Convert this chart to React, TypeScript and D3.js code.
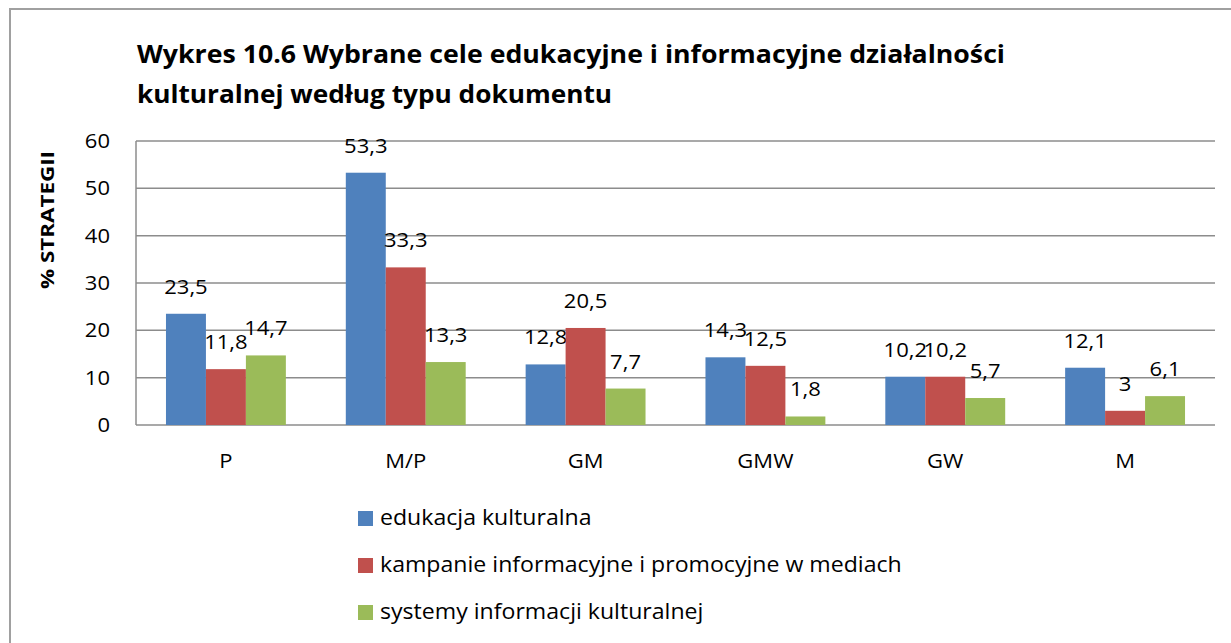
import React, { useEffect, useRef } from 'react';
import * as d3 from 'd3';

const categories = ["P", "M/P", "GM", "GMW", "GW", "M"];
const seriesNames = [
  "edukacja kulturalna",
  "kampanie informacyjne i promocyjne w mediach",
  "systemy informacji kulturalnej",
];
const edukacja = [23.5, 53.3, 12.8, 14.3, 10.2, 12.1];
const kampanie = [11.8, 33.3, 20.5, 12.5, 10.2, 3];
const systemy = [14.7, 13.3, 7.7, 1.8, 5.7, 6.1];
const yTicks = [0, 10, 20, 30, 40, 50, 60];
const colors = ["#4F81BD", "#C0504D", "#9BBB59"];

const W = 1231;
const H = 643;
const FONT = "'Open Sans', 'DejaVu Sans', sans-serif";

export default function App() {
  const ref = useRef<SVGSVGElement>(null);

  useEffect(() => {
    const svg = d3.select(ref.current);
    svg.selectAll("*").remove();

    const series = [edukacja, kampanie, systemy];

    // chart frame
    svg.append("rect")
      .attr("x", 10).attr("y", 9)
      .attr("width", W + 20).attr("height", H + 20)
      .attr("fill", "#fff")
      .attr("stroke", "#a0a0a0")
      .attr("stroke-width", 2);

    // title
    const title = svg.append("text")
      .attr("font-family", FONT)
      .attr("font-weight", "bold")
      .attr("font-size", 25)
      .attr("fill", "#000");
    title.append("tspan").attr("x", 137).attr("y", 63)
      .attr("textLength", 868).attr("lengthAdjust", "spacingAndGlyphs")
      .text("Wykres 10.6 Wybrane cele edukacyjne i informacyjne działalności");
    title.append("tspan").attr("x", 137).attr("y", 103)
      .attr("textLength", 475).attr("lengthAdjust", "spacingAndGlyphs")
      .text("kulturalnej według typu dokumentu");

    const left = 136, right = 1215, top = 141, bottom = 425;

    const x0 = d3.scaleBand().domain(categories).range([left, right]).paddingInner(1 / 3).paddingOuter(1 / 6);
    const x1 = d3.scaleBand().domain(["0", "1", "2"]).range([0, x0.bandwidth()]);
    const y = d3.scaleLinear().domain([0, 60]).range([bottom, top]);

    const g = svg.append("g");

    // gridlines
    g.selectAll(".grid")
      .data(yTicks)
      .enter()
      .append("line")
      .attr("x1", left).attr("x2", right)
      .attr("y1", d => y(d)).attr("y2", d => y(d))
      .attr("stroke", "#8c8c8c")
      .attr("stroke-width", 1.5);

    g.append("line")
      .attr("x1", left).attr("x2", left)
      .attr("y1", top).attr("y2", bottom)
      .attr("stroke", "#8c8c8c")
      .attr("stroke-width", 1.5);

    // y tick labels
    g.selectAll(".ytick")
      .data(yTicks)
      .enter()
      .append("text")
      .attr("class", "stretch")
      .attr("x", 110)
      .attr("y", d => y(d) + 7)
      .attr("text-anchor", "end")
      .attr("font-family", FONT)
      .attr("font-size", 20)
      .text(d => d);

    // y axis title
    svg.append("text")
      .attr("transform", "translate(54,220) rotate(-90)")
      .attr("text-anchor", "middle")
      .attr("font-family", FONT)
      .attr("font-weight", "bold")
      .attr("font-size", 18)
      .attr("textLength", 138)
      .attr("lengthAdjust", "spacingAndGlyphs")
      .text("% STRATEGII");

    // bars
    series.forEach((vals, si) => {
      g.selectAll(".bar" + si)
        .data(vals)
        .enter()
        .append("rect")
        .attr("x", (d, i) => (x0(categories[i]) as number) + (x1(String(si)) as number))
        .attr("y", d => y(d))
        .attr("width", x1.bandwidth())
        .attr("height", d => y(0) - y(d))
        .attr("fill", colors[si]);

      g.selectAll(".lbl" + si)
        .data(vals)
        .enter()
        .append("text")
        .attr("class", "stretch")
        .attr("x", (d, i) => (x0(categories[i]) as number) + (x1(String(si)) as number) + x1.bandwidth() / 2)
        .attr("y", d => y(d) - 20)
        .attr("text-anchor", "middle")
        .attr("font-family", FONT)
        .attr("font-size", 20)
        .text(d => String(d).replace(".", ","));
    });

    // category labels
    g.selectAll(".cat")
      .data(categories)
      .enter()
      .append("text")
      .attr("class", "stretch")
      .attr("x", d => (x0(d) as number) + x0.bandwidth() / 2)
      .attr("y", 468)
      .attr("text-anchor", "middle")
      .attr("font-family", FONT)
      .attr("font-size", 20)
      .text(d => d);

    // legend
    const legend = svg.append("g");
    seriesNames.forEach((name, i) => {
      const cy = 518 + i * 47;
      legend.append("rect")
        .attr("x", 358).attr("y", cy - 7)
        .attr("width", 15).attr("height", 15)
        .attr("fill", colors[i]);
      legend.append("text")
        .attr("class", "stretch")
        .attr("x", 380).attr("y", cy + 7)
        .attr("font-family", FONT)
        .attr("font-size", 21)
        .text(name);
    });

    // reference glyphs are a bit wider than Open Sans, widen a little
    svg.selectAll<SVGTextElement, unknown>("text.stretch").each(function () {
      const len = this.getComputedTextLength();
      d3.select(this)
        .attr("textLength", len * 1.1)
        .attr("lengthAdjust", "spacingAndGlyphs");
    });
  }, []);

  return (
    <div style={{ position: "absolute", left: 0, top: 0 }}>
      <svg ref={ref} width={W} height={H} style={{ display: "block", background: "#fff" }}></svg>
    </div>
  );
}
